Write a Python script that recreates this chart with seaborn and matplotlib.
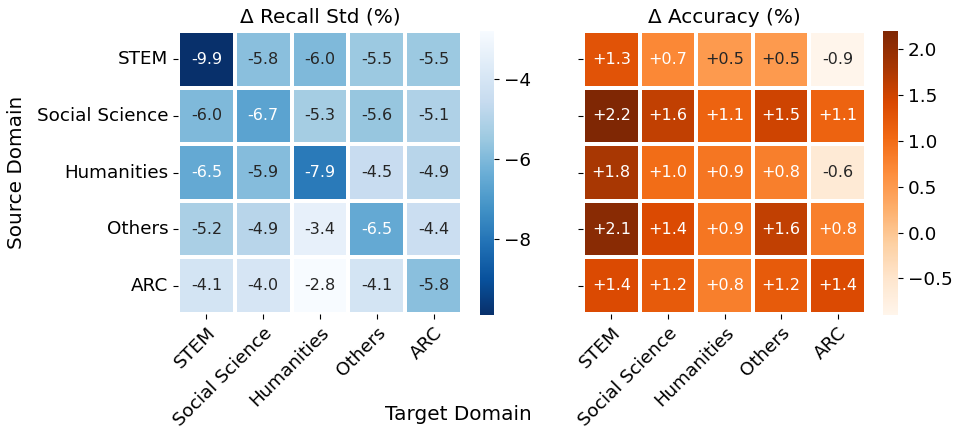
import numpy as np
import pandas as pd
import seaborn as sns
import matplotlib.pyplot as plt

domains = ["STEM", "Social Science", "Humanities", "Others", "ARC"]

# rows = source domain, columns = target domain
recall_std = [
    [-9.9, -5.8, -6.0, -5.5, -5.5],
    [-6.0, -6.7, -5.3, -5.6, -5.1],
    [-6.5, -5.9, -7.9, -4.5, -4.9],
    [-5.2, -4.9, -3.4, -6.5, -4.4],
    [-4.1, -4.0, -2.8, -4.1, -5.8],
]
accuracy = [
    [1.3, 0.7, 0.5, 0.5, -0.9],
    [2.2, 1.6, 1.1, 1.5, 1.1],
    [1.8, 1.0, 0.9, 0.8, -0.6],
    [2.1, 1.4, 0.9, 1.6, 0.8],
    [1.4, 1.2, 0.8, 1.2, 1.4],
]

df_recall = pd.DataFrame(recall_std, index=domains, columns=domains)
df_acc = pd.DataFrame(accuracy, index=domains, columns=domains)

W, H = 961, 429
fig = plt.figure(figsize=(W / 100, H / 100), dpi=100)

def px_axes(x0, y0, x1, y1):
    return fig.add_axes([x0 / W, 1 - y1 / H, (x1 - x0) / W, (y1 - y0) / H])

ax1 = px_axes(178, 31, 462, 314)
cax1 = px_axes(480, 31, 494, 315)
ax2 = px_axes(583, 31, 866, 314)
cax2 = px_axes(883, 31, 898, 315)

sns.heatmap(df_recall, ax=ax1, cbar_ax=cax1, cmap="Blues_r", annot=True, fmt=".1f",
            linewidths=1.5, linecolor="white", annot_kws={"size": 11.5})
sns.heatmap(df_acc, ax=ax2, cbar_ax=cax2, cmap="Oranges", annot=True, fmt="+.1f",
            linewidths=1.5, linecolor="white", annot_kws={"size": 11.5})

ax1.set_title("Δ Recall Std (%)", fontsize=14.4)
ax2.set_title("Δ Accuracy (%)", fontsize=14.4)

for ax in (ax1, ax2):
    ax.set_xticklabels(domains, rotation=45, ha="right", rotation_mode="anchor", fontsize=13.2)
    ax.set_xlabel("")
    ax.set_ylabel("")
ax1.set_yticklabels(domains, rotation=0, fontsize=13.2)
ax2.set_yticklabels([])

cax1.set_yticks([-8, -6, -4])
cax2.set_yticks([-0.5, 0.0, 0.5, 1.0, 1.5, 2.0])
for cax in (cax1, cax2):
    cax.tick_params(labelsize=13.2)

fig.text(17 / W, 1 - 172 / H, "Source Domain", rotation=90, ha="center", va="center", fontsize=14.4)
fig.text(458 / W, 1 - 414 / H, "Target Domain", ha="center", va="center", fontsize=14.4)

fig.savefig("out.png", dpi=100)
